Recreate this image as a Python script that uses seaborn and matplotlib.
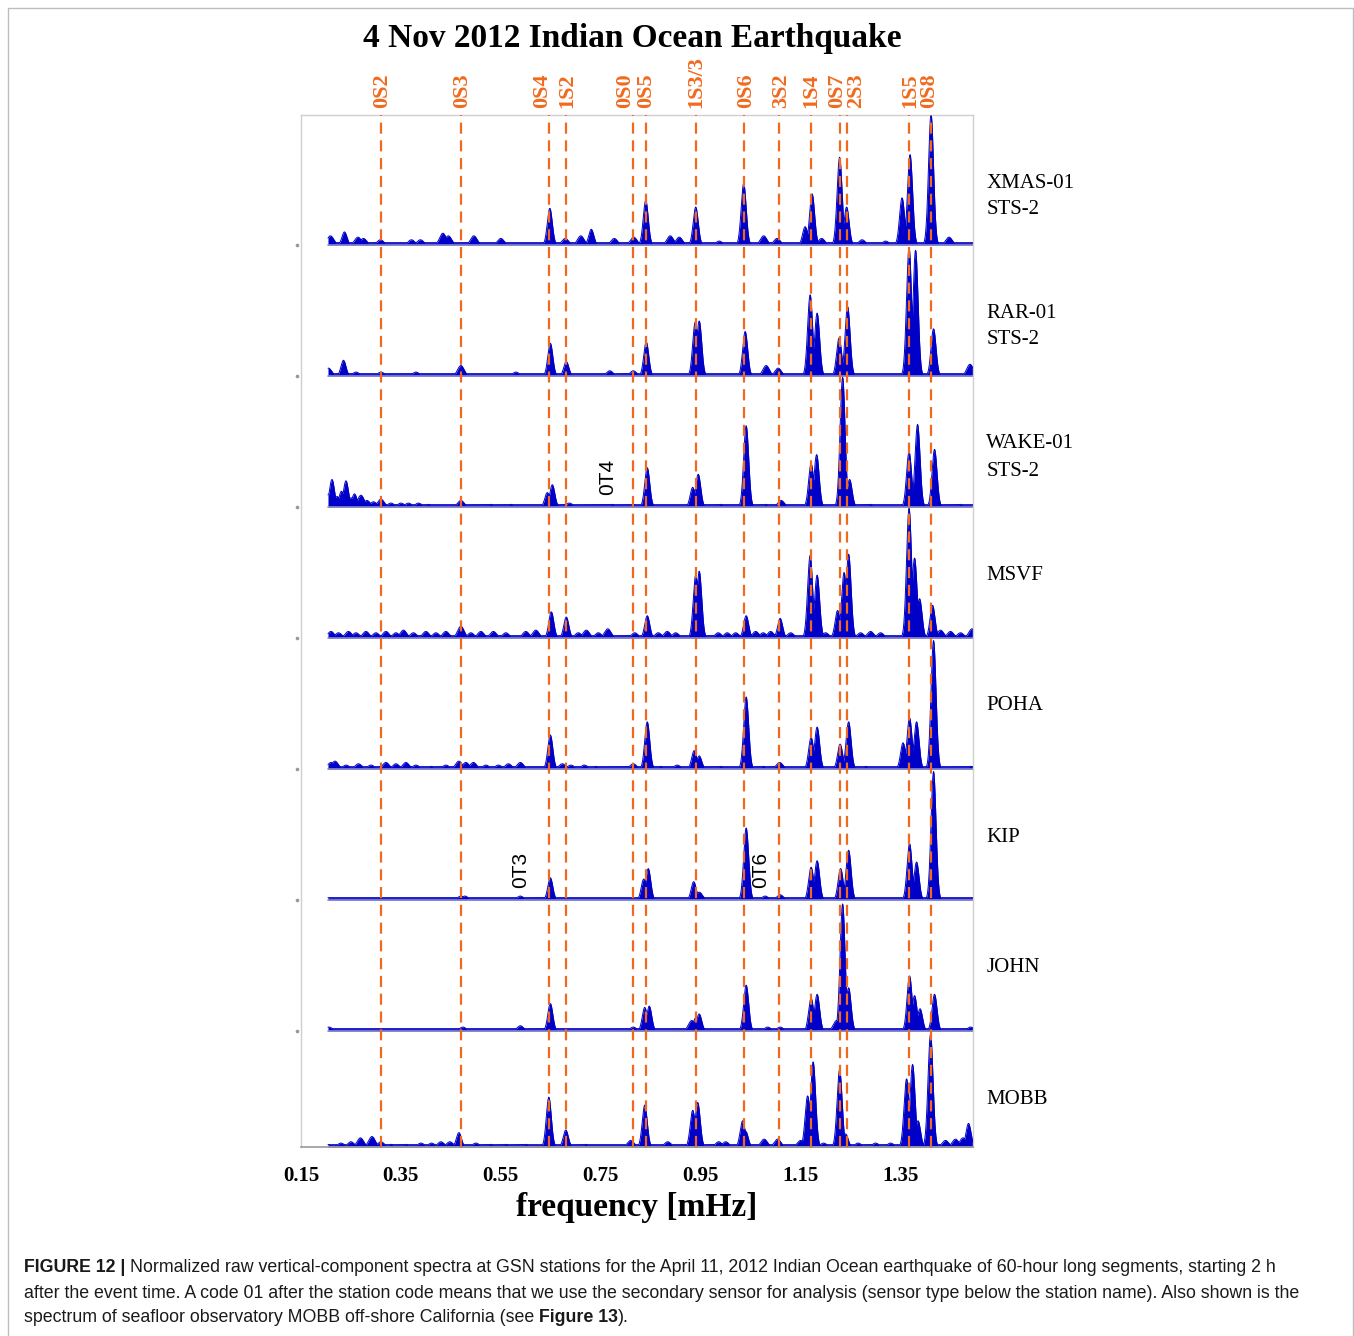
import numpy as np
import pandas as pd
import matplotlib
matplotlib.use('Agg')
import matplotlib.pyplot as plt
from matplotlib.patches import Rectangle
import seaborn as sns

# station names (top to bottom) and sensor type shown below the name
stations = ['XMAS-01', 'RAR-01', 'WAKE-01', 'MSVF', 'POHA', 'KIP', 'JOHN', 'MOBB']
sensors = ['STS-2', 'STS-2', 'STS-2', '', '', '', '', '']

# normal modes marked with dashed lines (mHz)
modes = ['0S2', '0S3', '0S4', '1S2', '0S0', '0S5', '1S3/3', '0S6', '3S2', '1S4', '0S7', '2S3', '1S5', '0S8']
mode_freqs = [0.310, 0.470, 0.646, 0.680, 0.814, 0.840, 0.940, 1.036, 1.106, 1.170, 1.228, 1.242, 1.366, 1.410]

# toroidal mode labels written inside panels: (station, freq, text)
toroidal = [('WAKE-01', 0.764, '0T4'), ('KIP', 0.590, '0T3'), ('KIP', 1.070, '0T6')]

# spectral peaks: (freq mHz, normalized amplitude)
xmas_peaks = [(0.209, 0.07), (0.237, 0.10), (0.264, 0.06), (0.275, 0.05), (0.309, 0.04), (0.371, 0.04),
              (0.389, 0.04), (0.434, 0.09), (0.445, 0.07), (0.496, 0.07), (0.55, 0.05), (0.648, 0.28),
              (0.679, 0.05), (0.71, 0.07), (0.731, 0.12), (0.777, 0.05), (0.816, 0.06), (0.84, 0.34),
              (0.889, 0.07), (0.907, 0.06), (0.94, 0.29), (0.987, 0.03), (1.036, 0.47), (1.076, 0.07),
              (1.103, 0.05), (1.159, 0.14), (1.173, 0.39), (1.192, 0.05), (1.228, 0.67), (1.242, 0.29),
              (1.273, 0.04), (1.32, 0.03), (1.353, 0.36), (1.369, 0.69), (1.411, 1.0), (1.447, 0.06)]
rar_peaks = [(0.205, 0.06), (0.235, 0.12), (0.26, 0.03), (0.31, 0.03), (0.38, 0.03), (0.47, 0.08),
             (0.58, 0.03), (0.649, 0.25), (0.681, 0.11), (0.768, 0.04), (0.815, 0.04), (0.841, 0.26),
             (0.939, 0.41), (0.947, 0.42), (1.039, 0.34), (1.081, 0.08), (1.105, 0.06), (1.169, 0.62),
             (1.183, 0.48), (1.227, 0.29), (1.244, 0.53), (1.367, 0.98), (1.38, 0.96), (1.416, 0.36),
             (1.489, 0.09)]
wake_peaks = [(0.206, 0.10), (0.212, 0.21), (0.222, 0.08), (0.231, 0.12), (0.24, 0.20), (0.25, 0.07),
              (0.257, 0.10), (0.27, 0.09), (0.282, 0.05), (0.295, 0.04), (0.31, 0.06), (0.33, 0.03),
              (0.35, 0.03), (0.365, 0.03), (0.385, 0.03), (0.405, 0.02), (0.47, 0.05), (0.53, 0.02),
              (0.57, 0.02), (0.643, 0.11), (0.653, 0.17), (0.687, 0.03), (0.773, 0.02), (0.815, 0.02),
              (0.843, 0.30), (0.934, 0.15), (0.945, 0.25), (0.99, 0.02), (1.041, 0.62), (1.08, 0.02),
              (1.111, 0.05), (1.171, 0.33), (1.182, 0.40), (1.234, 0.99), (1.248, 0.21), (1.29, 0.02),
              (1.367, 0.42), (1.384, 0.63), (1.418, 0.44), (1.47, 0.02)]
msvf_peaks = [(0.21, 0.05), (0.225, 0.04), (0.245, 0.05), (0.26, 0.04), (0.28, 0.05), (0.30, 0.04),
              (0.32, 0.05), (0.34, 0.04), (0.355, 0.06), (0.375, 0.04), (0.40, 0.05), (0.42, 0.04),
              (0.44, 0.05), (0.47, 0.09), (0.49, 0.04), (0.51, 0.05), (0.535, 0.05), (0.56, 0.04),
              (0.60, 0.05), (0.62, 0.06), (0.651, 0.20), (0.681, 0.16), (0.705, 0.04), (0.721, 0.06),
              (0.745, 0.04), (0.764, 0.07), (0.818, 0.04), (0.843, 0.17), (0.865, 0.04), (0.883, 0.05),
              (0.90, 0.04), (0.94, 0.48), (0.947, 0.51), (0.985, 0.04), (1.003, 0.04), (1.02, 0.04),
              (1.041, 0.17), (1.06, 0.05), (1.075, 0.04), (1.09, 0.05), (1.109, 0.15), (1.13, 0.04),
              (1.169, 0.63), (1.183, 0.48), (1.20, 0.04), (1.224, 0.21), (1.237, 0.50), (1.246, 0.64),
              (1.27, 0.04), (1.29, 0.05), (1.31, 0.04), (1.367, 0.99), (1.378, 0.61), (1.388, 0.30),
              (1.414, 0.25), (1.43, 0.06), (1.45, 0.05), (1.47, 0.04), (1.493, 0.07)]
poha_peaks = [(0.21, 0.05), (0.218, 0.06), (0.24, 0.03), (0.265, 0.04), (0.29, 0.03), (0.32, 0.05),
              (0.34, 0.04), (0.36, 0.05), (0.38, 0.03), (0.41, 0.02), (0.44, 0.03), (0.466, 0.06),
              (0.48, 0.05), (0.495, 0.05), (0.52, 0.03), (0.545, 0.03), (0.565, 0.04), (0.589, 0.05),
              (0.649, 0.26), (0.673, 0.04), (0.69, 0.03), (0.717, 0.03), (0.74, 0.02), (0.815, 0.04),
              (0.843, 0.36), (0.87, 0.02), (0.903, 0.03), (0.937, 0.14), (0.947, 0.10), (0.99, 0.02),
              (1.041, 0.55), (1.075, 0.02), (1.108, 0.05), (1.171, 0.24), (1.183, 0.32), (1.229, 0.19),
              (1.246, 0.36), (1.28, 0.02), (1.355, 0.20), (1.368, 0.39), (1.382, 0.36), (1.416, 0.98),
              (1.49, 0.02)]
kip_peaks = [(0.30, 0.01), (0.47, 0.03), (0.478, 0.03), (0.589, 0.03), (0.649, 0.17), (0.683, 0.01),
             (0.815, 0.01), (0.836, 0.16), (0.845, 0.24), (0.936, 0.14), (0.947, 0.06), (1.041, 0.55),
             (1.079, 0.03), (1.109, 0.04), (1.171, 0.25), (1.183, 0.30), (1.23, 0.24), (1.246, 0.38),
             (1.368, 0.43), (1.382, 0.29), (1.416, 0.98), (1.49, 0.01)]
john_peaks = [(0.206, 0.03), (0.25, 0.01), (0.29, 0.01), (0.474, 0.03), (0.589, 0.04), (0.649, 0.21),
              (0.67, 0.01), (0.815, 0.03), (0.838, 0.18), (0.847, 0.19), (0.932, 0.08), (0.94, 0.10),
              (0.947, 0.13), (1.041, 0.35), (1.084, 0.03), (1.109, 0.03), (1.171, 0.25), (1.183, 0.28),
              (1.222, 0.08), (1.234, 0.97), (1.246, 0.33), (1.368, 0.42), (1.378, 0.27), (1.389, 0.17),
              (1.418, 0.28), (1.49, 0.03)]
mobb_peaks = [(0.204, 0.02), (0.23, 0.03), (0.25, 0.04), (0.269, 0.07), (0.292, 0.08), (0.31, 0.04),
              (0.33, 0.02), (0.36, 0.02), (0.39, 0.03), (0.411, 0.03), (0.43, 0.04), (0.448, 0.04),
              (0.466, 0.11), (0.50, 0.03), (0.53, 0.02), (0.56, 0.02), (0.60, 0.02), (0.646, 0.38),
              (0.68, 0.13), (0.72, 0.02), (0.81, 0.05), (0.838, 0.32), (0.884, 0.04), (0.934, 0.28),
              (0.944, 0.34), (0.986, 0.04), (1.00, 0.04), (1.034, 0.20), (1.04, 0.12), (1.077, 0.06),
              (1.104, 0.06), (1.15, 0.05), (1.164, 0.39), (1.175, 0.65), (1.196, 0.03), (1.228, 0.59),
              (1.24, 0.10), (1.265, 0.03), (1.30, 0.03), (1.33, 0.03), (1.362, 0.52), (1.374, 0.63),
              (1.385, 0.20), (1.41, 0.86), (1.44, 0.05), (1.46, 0.06), (1.475, 0.07), (1.486, 0.18)]

peaks = [xmas_peaks, rar_peaks, wake_peaks, msvf_peaks, poha_peaks, kip_peaks, john_peaks, mobb_peaks]

xticks = [0.15, 0.35, 0.55, 0.75, 0.95, 1.15, 1.35]

# ---- build the traces ----
W, H = 1354, 1336
panel = 131.0  # panel height in y-units (pixels)
baselines = [116 + panel * (6 - i) for i in range(7)] + [0.0]
freq = np.linspace(0.204, 1.496, 2600)

rows = []
for name, pk, base in zip(stations, peaks, baselines):
    comps = []
    for f0, h in pk:
        sig = 0.005 if h >= 0.1 else 0.0065   # small noise bumps are a bit broader
        comps.append(h * np.exp(-0.5 * ((freq - f0) / sig) ** 2))
    amp = np.maximum(np.max(comps, axis=0), 0.018)
    rows.append(pd.DataFrame({'freq': freq, 'level': base + amp * panel, 'station': name, 'base': base}))
df = pd.concat(rows, ignore_index=True)

sns.set_theme(style='white')
plt.rcParams['font.family'] = ['Liberation Serif', 'DejaVu Serif']
plt.rcParams['text.color'] = 'black'
plt.rcParams['axes.labelcolor'] = 'black'
plt.rcParams['xtick.color'] = 'black'

blue = '#0000c8'
orange = '#f0691e'

fig = plt.figure(figsize=(W / 100, H / 100), dpi=100)
ax = fig.add_axes([301 / W, 1 - 1147 / H, 672 / W, 1032 / H])

for name, g in df.groupby('station', sort=False):
    ax.fill_between(g['freq'], g['base'], g['level'], color=blue, lw=0, zorder=2)
    ax.plot(g['freq'], g['base'], color='#8a8ac8', lw=1.2, zorder=2)
sns.lineplot(data=df, x='freq', y='level', hue='station', palette=[blue] * len(stations),
             legend=False, lw=0.7, estimator=None, sort=False, ax=ax, zorder=3)

for f in mode_freqs:
    ax.axvline(f, color=orange, lw=1.6, ls=(0, (5, 3)), zorder=4)

# mode labels above the frame (pixel nudges keep close pairs apart)
label_shift = [1, 1, -7, 1, -8, 0, 1, 2, 2, 1, -2, 10, 2, -1]
for name, f, dx in zip(modes, mode_freqs, label_shift):
    ax.annotate(name, xy=(f, 1), xycoords=ax.get_xaxis_transform(), xytext=(dx * 0.72, 5),
                textcoords='offset points', rotation=90, ha='center', va='bottom',
                color=orange, fontsize=16, fontweight='bold')

# station labels on the right, hung from the top of each panel
for i, (name, sen, base) in enumerate(zip(stations, sensors, baselines)):
    top = baselines[i - 1] if i > 0 else 1032
    ax.text(1.02, top - 68, name, transform=ax.get_yaxis_transform(),
            ha='left', va='center', fontsize=15)
    if sen:
        ax.text(1.02, top - 95, sen, transform=ax.get_yaxis_transform(),
                ha='left', va='center', fontsize=15)

# small markers left of each separator
ax.plot([-0.006] * 7, baselines[:7], ls='none', marker='o', ms=1.6, color='#999999',
        transform=ax.get_yaxis_transform(), clip_on=False)

for st, f, txt in toroidal:
    base = baselines[stations.index(st)]
    ax.text(f, base + 0.23 * panel, txt, rotation=90, ha='center', va='center',
            fontsize=15, family=['Liberation Sans', 'DejaVu Sans'], zorder=5)

ax.set_xlim(0.15, 1.495)
ax.set_ylim(0, 1032)
ax.set_yticks([])
ax.set_xticks(xticks)
ax.set_xticklabels([f'{t:.2f}' for t in xticks], fontsize=15, fontweight='bold')
ax.tick_params(axis='x', length=0, pad=14)
ax.set_xlabel('frequency [mHz]', fontsize=24, fontweight='bold', labelpad=4)
ax.set_ylabel('')
for s in ['left', 'top', 'right']:
    ax.spines[s].set_color('#cfcfcf')
    ax.spines[s].set_linewidth(1.0)
ax.spines['bottom'].set_color('#999999')
ax.spines['bottom'].set_linewidth(1.2)

fig.text(632 / W, 1 - 38 / H, '4 Nov 2012 Indian Ocean Earthquake', ha='center', va='center',
         fontsize=24, fontweight='bold')

# outer frame of the figure panel
fig.patches.append(Rectangle((8 / W, -0.01), (1353 - 8) / W, 1.01 - 8 / H, transform=fig.transFigure,
                             fill=False, edgecolor='#bdbdbd', lw=1.0))

# caption, with bold pieces placed one after another
cap_font = ['Liberation Sans', 'DejaVu Sans']
caption = [
    [('FIGURE 12 | ', 'bold'), ('Normalized raw vertical-component spectra at GSN stations for the April 11, '
                                '2012 Indian Ocean earthquake of 60-hour long segments, starting 2 h', 'normal')],
    [('after the event time. A code 01 after the station code means that we use the secondary sensor for '
      'analysis (sensor type below the station name). Also shown is the', 'normal')],
    [('spectrum of seafloor observatory MOBB off-shore California (see ', 'normal'),
     ('Figure 13', 'bold'), (').', 'normal')],
]
renderer = fig.canvas.get_renderer()
for yline, pieces in zip([1268, 1293, 1317], caption):
    x = 24
    for txt, wt in pieces:
        t = fig.text(x / W, 1 - yline / H, txt, ha='left', va='center', fontsize=12.8,
                     fontweight=wt, family=cap_font, color='#1a1a1a')
        x += t.get_window_extent(renderer).width

fig.savefig('out.png', dpi=100)
